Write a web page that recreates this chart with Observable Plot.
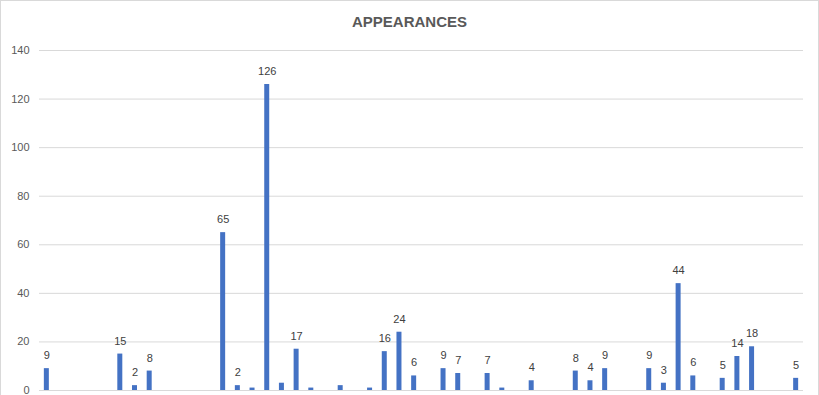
<!DOCTYPE html>
<html>
<head>
<meta charset="utf-8">
<script src="https://cdn.jsdelivr.net/npm/d3@7"></script>
<script src="https://cdn.jsdelivr.net/npm/@observablehq/plot@0.6"></script>
<style>
  html, body { margin: 0; padding: 0; background: #fff; }
  #wrap { position: relative; width: 819px; height: 395px; overflow: hidden; font-family: "Liberation Sans", Arial, sans-serif; }
  #title { padding-top: 8px; height: 28px; line-height: 28px; text-align: center; font-weight: bold; font-size: 15px; color: #595959; }
  #frame { position: absolute; left: 0; top: 0; width: 819px; height: 420px; border: 1px solid #d9d9d9; box-sizing: border-box; pointer-events: none; }
</style>
</head>
<body>
<div id="wrap">
  <div id="title">APPEARANCES</div>
  <div id="chart"></div>
  <div id="frame"></div>
</div>
<script>
const categories = ["1","2","3","4","5","6","7","8","9","10","11","12","13","14","15","16","17","18","19","20","21","22","23","24","25","26","27","28","29","30","31","32","33","34","35","36","37","38","39","40","41","42","43","44","45","46","47","48","49","50","51","52"];
const values = [9,null,null,null,null,15,2,8,null,null,null,null,65,2,1,126,3,17,1,null,2,null,1,16,24,6,null,9,7,null,7,1,null,4,null,null,8,4,9,null,null,9,3,44,6,null,5,14,18,null,null,5];
const labels = ["9","","","","","15","2","8","","","","","65","2","","126","","17","","","","","","16","24","6","","9","7","","7","","","4","","","8","4","9","","","9","3","44","6","","5","14","18","","","5"];
const yTicks = [0,20,40,60,80,100,120,140];

const data = categories.map((c, i) => ({category: c, value: values[i], label: labels[i]}));
const bars = data.filter(d => d.value != null);
const texts = data.filter(d => d.value != null && d.label !== "");

const chart = Plot.plot({
  width: 819,
  height: 359,
  marginLeft: 39,
  marginRight: 16,
  marginTop: 14,
  marginBottom: 5,
  style: {fontFamily: "Liberation Sans, Arial, sans-serif", background: "transparent"},
  x: {type: "band", domain: categories, paddingInner: 0.66, paddingOuter: 0.33, axis: null},
  y: {domain: [0, 140], ticks: yTicks, label: null},
  marks: [
    Plot.ruleY(yTicks, {stroke: "#d9d9d9", strokeWidth: 1}),
    Plot.axisY({ticks: yTicks, tickSize: 0, tickPadding: 10, fontSize: 11, color: "#595959", label: null}),
    Plot.barY(bars, {x: "category", y: "value", fill: "#4472C4"}),
    Plot.text(texts, {x: "category", y: "value", text: "label", dy: -13, fill: "#404040", fontSize: 11, textAnchor: "middle"})
  ]
});
document.getElementById("chart").appendChild(chart);
</script>
</body>
</html>
